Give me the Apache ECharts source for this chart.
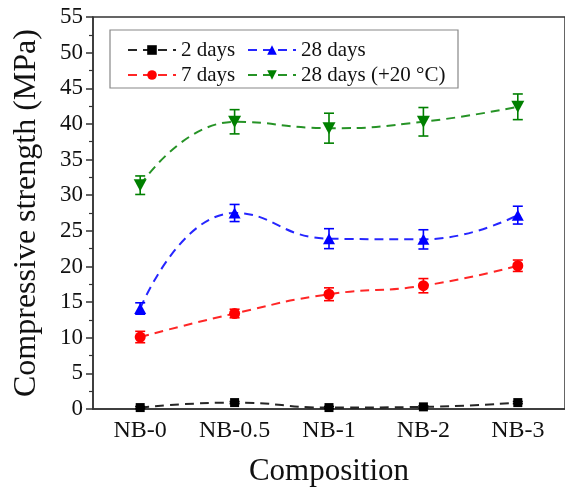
<!DOCTYPE html>
<html>
<head>
<meta charset="utf-8">
<script src="https://cdn.jsdelivr.net/npm/echarts@6/dist/echarts.min.js"></script>
<style>html,body{margin:0;padding:0;background:#fff}#c{width:565px;height:497px}</style>
</head>
<body>
<div id="c"></div>
<script>
const categories = ['NB-0', 'NB-0.5', 'NB-1', 'NB-2', 'NB-3'];
const seriesNames = ['2 days', '7 days', '28 days', '28 days (+20 °C)'];
const days2 = [0.2, 0.9, 0.2, 0.3, 0.9];
const days2Err = [0.15, 0.15, 0.15, 0.15, 0.15];
const days7 = [10.1, 13.4, 16.1, 17.3, 20.1];
const days7Err = [0.8, 0.6, 0.9, 1.0, 0.8];
const days28 = [14.1, 27.5, 23.9, 23.8, 27.2];
const days28Err = [0.8, 1.2, 1.4, 1.35, 1.25];
const days28h = [31.4, 40.3, 39.4, 40.3, 42.4];
const days28hErr = [1.3, 1.7, 2.1, 2.0, 1.8];
const yTicks = [0, 5, 10, 15, 20, 25, 30, 35, 40, 45, 50, 55];

const FONT = "'Liberation Serif', 'Times New Roman', serif";
const colors = ['#000000', '#ff0000', '#0000ff', '#008000'];
const symbols = ['rect', 'circle', 'triangle', 'path://M0,0 L10,0 L5,9 Z'];
const symbolSizes = [9, 11, [12, 11], [13, 12]];
const values = [days2, days7, days28, days28h];
const errs = [days2Err, days7Err, days28Err, days28hErr];

const chart = echarts.init(document.getElementById('c'), null, {renderer: 'canvas'});

const lineSeries = values.map((v, i) => ({
  name: seriesNames[i],
  type: 'line',
  data: v,
  smooth: 0.5,
  symbol: symbols[i],
  symbolSize: symbolSizes[i],
  itemStyle: {color: colors[i]},
  lineStyle: {color: colors[i], width: 2, type: [9, 6], opacity: 0.85},
  z: 3
}));

const errSeries = values.map((v, i) => ({
  name: 'err' + i,
  type: 'custom',
  data: v.map((val, k) => [k, val, errs[i][k]]),
  z: 2,
  renderItem: function (params, api) {
    const x = api.value(0), y = api.value(1), e = api.value(2);
    const t = api.coord([x, y + e]);
    const b = api.coord([x, y - e]);
    const hw = 5;
    const st = {stroke: colors[i], lineWidth: 1.6};
    return {
      type: 'group',
      children: [
        {type: 'line', shape: {x1: t[0], y1: t[1], x2: b[0], y2: b[1]}, style: st},
        {type: 'line', shape: {x1: t[0] - hw, y1: t[1], x2: t[0] + hw, y2: t[1]}, style: st},
        {type: 'line', shape: {x1: b[0] - hw, y1: b[1], x2: b[0] + hw, y2: b[1]}, style: st}
      ]
    };
  }
}));

const legendCommon = {
  orient: 'vertical',
  top: 37.5,
  padding: 0,
  itemGap: 0,
  itemWidth: 48,
  itemHeight: 12,
  selectedMode: false,
  textStyle: {fontFamily: FONT, fontSize: 21, color: '#111', lineHeight: 25, padding: [0, 0, 0, 0]}
};

const option = {
  backgroundColor: '#fff',
  animation: false,
  textStyle: {fontFamily: FONT},
  graphic: [{
    type: 'rect',
    shape: {x: 110, y: 30, width: 348, height: 58},
    style: {fill: 'none', stroke: '#888', lineWidth: 1.2},
    z: 1
  }],
  legend: [
    Object.assign({}, legendCommon, {left: 127, data: [seriesNames[0], seriesNames[1]]}),
    Object.assign({}, legendCommon, {left: 247, data: [seriesNames[2], seriesNames[3]]})
  ],
  grid: {
    left: 93, top: 17, width: 482, bottom: 88,
    show: true, borderColor: '#333', borderWidth: 1.5, backgroundColor: 'transparent'
  },
  xAxis: {
    type: 'category',
    data: categories,
    boundaryGap: true,
    name: 'Composition',
    nameLocation: 'middle',
    nameGap: 47,
    nameTextStyle: {fontFamily: FONT, fontSize: 31, color: '#111'},
    axisLine: {lineStyle: {color: '#333', width: 1.5}},
    axisTick: {alignWithLabel: true, length: 7, lineStyle: {color: '#333', width: 1.5}},
    axisLabel: {fontFamily: FONT, fontSize: 24, color: '#111', margin: 10},
    splitLine: {show: false}
  },
  yAxis: {
    type: 'value',
    min: 0, max: 55, interval: 5,
    name: 'Compressive strength (MPa)',
    nameLocation: 'middle',
    nameGap: 50,
    nameTextStyle: {fontFamily: FONT, fontSize: 32, color: '#111'},
    axisLine: {show: true, lineStyle: {color: '#333', width: 1.5}},
    axisTick: {show: true, length: 7, lineStyle: {color: '#333', width: 1.5}},
    minorTick: {show: true, splitNumber: 2, length: 4, lineStyle: {color: '#333', width: 1.2}},
    axisLabel: {fontFamily: FONT, fontSize: 23, color: '#111', margin: 10,
      formatter: v => (yTicks.indexOf(v) >= 0 ? String(v) : '')},
    splitLine: {show: false}
  },
  series: errSeries.concat(lineSeries)
};
chart.setOption(option);
</script>
</body>
</html>
